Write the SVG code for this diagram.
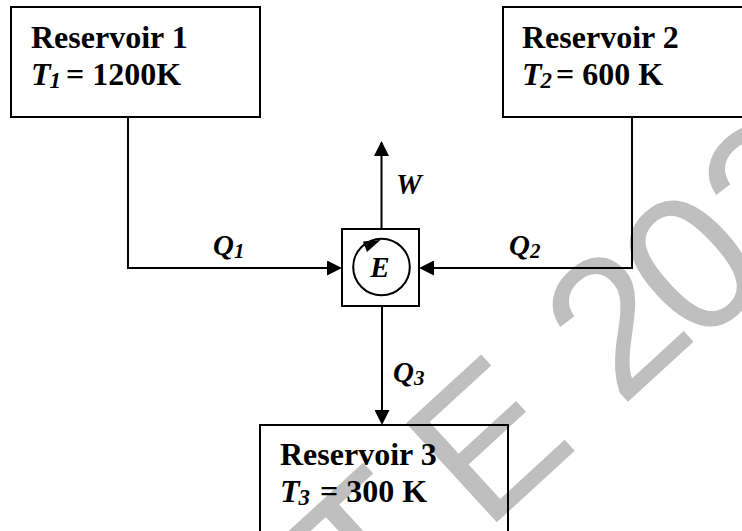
<svg xmlns="http://www.w3.org/2000/svg" width="742" height="531" viewBox="0 0 742 531">
<style>
.box{fill:none;stroke:#000;stroke-width:2}
.conn{fill:none;stroke:#000;stroke-width:2}
.t{font-family:"Liberation Serif","Times New Roman",serif;font-weight:bold;font-size:32px;fill:#000}
.lbl{font-family:"Liberation Serif","Times New Roman",serif;font-weight:bold;font-style:italic;font-size:29px;fill:#000}
.it{font-style:italic}
.wm{font-family:"Liberation Sans",Arial,sans-serif;font-size:195px;fill:#bfbfbf}
</style>
<defs>
<marker id="arr" markerUnits="userSpaceOnUse" markerWidth="15" markerHeight="15" refX="13" refY="7.5" orient="auto">
<path d="M0,0 L15,7.5 L0,15 z" fill="#000"/>
</marker>
</defs>
<rect width="742" height="531" fill="#fff"/>
<text class="wm" transform="translate(485 533) rotate(-42.5)" y="0"><tspan x="-157">T</tspan><tspan x="0">E 2</tspan><tspan x="280" dy="8">02</tspan></text>
<g id="reservoir1">
<rect class="box" x="11" y="7" width="249" height="110"/>
<text class="t" x="31" y="48">Reservoir 1</text>
<text class="t" y="85"><tspan class="it" x="31">T</tspan><tspan class="it" font-size="23" dx="-1" dy="3">1</tspan><tspan x="66" dy="-3">= 1200K</tspan></text>
</g>
<g id="reservoir2">
<rect class="box" x="503" y="7" width="260" height="110"/>
<text class="t" x="522" y="48">Reservoir 2</text>
<text class="t" y="85"><tspan class="it" x="522">T</tspan><tspan class="it" font-size="23" dx="-1" dy="3">2</tspan><tspan x="556" dy="-3">= 600 K</tspan></text>
</g>
<g id="reservoir3">
<rect class="box" x="260" y="425" width="248" height="130"/>
<text class="t" x="280" y="465">Reservoir 3</text>
<text class="t" y="502"><tspan class="it" x="280">T</tspan><tspan class="it" font-size="23" dx="-1" dy="3">3</tspan><tspan x="320" dy="-3">= 300 K</tspan></text>
</g>
<g id="engine">
<rect class="box" x="342" y="229" width="77" height="77" fill="#fff"/>
<circle cx="381.5" cy="267" r="28.3" fill="none" stroke="#000" stroke-width="2"/>
<polygon points="380.5,240 363,241.5 367,252" fill="#000"/>
<text class="lbl" x="380" y="277" text-anchor="middle">E</text>
</g>
<g id="connectors">
<path class="conn" d="M128,117 V268 H340" marker-end="url(#arr)"/>
<path class="conn" d="M632,117 V268 H421" marker-end="url(#arr)"/>
<path class="conn" d="M381.5,229 V143" marker-end="url(#arr)"/>
<path class="conn" d="M382,306 V423" marker-end="url(#arr)"/>
</g>
<g id="labels">
<text class="lbl" x="396" y="194">W</text>
<text class="lbl" x="213" y="255">Q<tspan font-size="21" dy="3">1</tspan></text>
<text class="lbl" x="509" y="255">Q<tspan font-size="21" dy="3">2</tspan></text>
<text class="lbl" x="393" y="382">Q<tspan font-size="21" dy="3">3</tspan></text>
</g>
</svg>
